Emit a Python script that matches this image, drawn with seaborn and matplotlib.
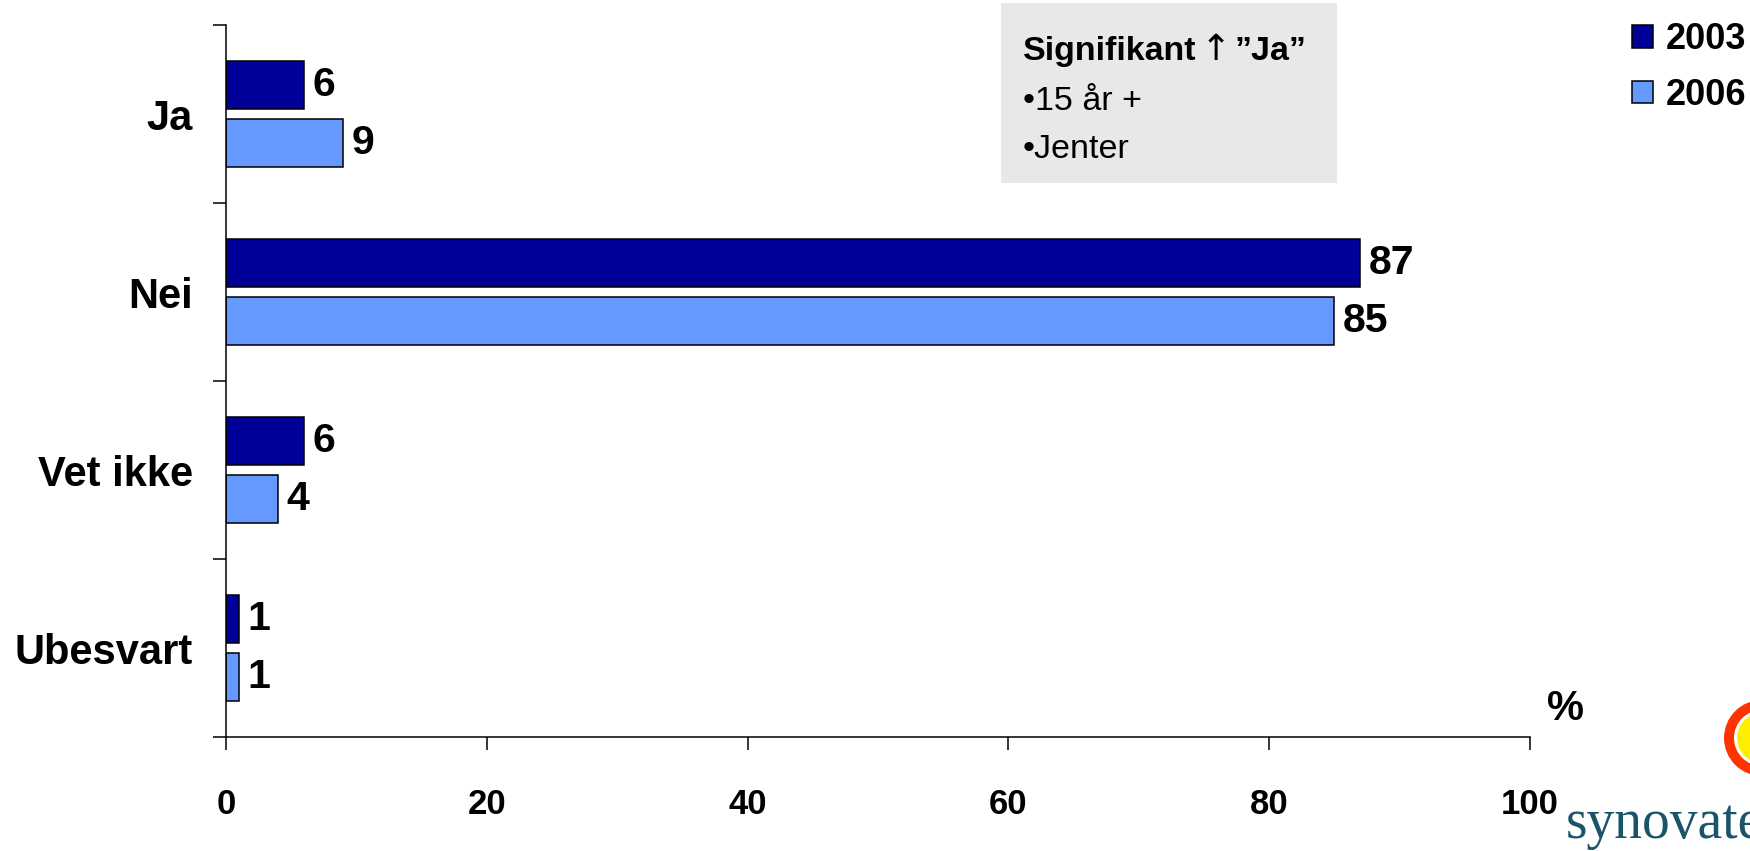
import matplotlib
matplotlib.use("Agg")
import matplotlib.pyplot as plt
import matplotlib.patches as mpatches
import numpy as np
import pandas as pd
import seaborn as sns

categories = ["Ja", "Nei", "Vet ikke", "Ubesvart"]
years = ["2003", "2006"]
values_2003 = [6, 87, 6, 1]
values_2006 = [9, 85, 4, 1]
x_ticks = [0, 20, 40, 60, 80, 100]

sns.set_theme(style="ticks")
plt.rcParams["font.family"] = ["Liberation Sans", "DejaVu Sans"]
plt.rcParams["text.color"] = "black"
plt.rcParams["xtick.color"] = "black"
plt.rcParams["ytick.color"] = "black"
plt.rcParams["axes.labelcolor"] = "black"

df = pd.DataFrame({
    "svar": categories * 2,
    "aar": [years[0]] * 4 + [years[1]] * 4,
    "prosent": values_2003 + values_2006,
})

fig = plt.figure(figsize=(17.5, 8.51), dpi=100)
ax = fig.add_axes([226 / 1750, 1 - 737 / 851, (1530 - 226) / 1750, (737 - 25) / 851])

palette = {"2003": "#000099", "2006": "#6699FF"}
sns.barplot(data=df, x="prosent", y="svar", hue="aar", order=categories,
            hue_order=years, palette=palette, orient="h", width=0.652, gap=0.17,
            edgecolor="black", linewidth=1.1, saturation=1, errorbar=None, ax=ax)

for cont in ax.containers:
    ax.bar_label(cont, fmt="%d", padding=6, fontsize=29.5, fontweight="bold")

ax.set_xlim(0, 100)
ax.set_ylim(3.5, -0.5)
ax.set_xticks(x_ticks)
ax.set_xticklabels([str(t) for t in x_ticks], fontsize=25, fontweight="bold")
ax.set_yticks(range(len(categories)))
ax.set_yticklabels(categories, fontsize=30, fontweight="bold")
ax.set_yticks(np.arange(-0.5, 4, 1), minor=True)
ax.tick_params(axis="y", which="major", length=0, pad=24)
ax.tick_params(axis="y", which="minor", length=9.5, width=1.1, direction="out")
ax.tick_params(axis="x", which="major", length=9, width=1.1, direction="out", pad=28)
ax.set_xlabel("")
ax.set_ylabel("")
for side in ["top", "right"]:
    ax.spines[side].set_visible(False)
for side in ["left", "bottom"]:
    ax.spines[side].set_color("black")
    ax.spines[side].set_linewidth(1.1)

handles, labels = ax.get_legend_handles_labels()
ax.get_legend().remove()
fig.legend(handles, labels, loc="upper left", bbox_to_anchor=(1614 / 1750, 1 - 4 / 851),
           frameon=False, prop={"size": 26, "weight": "bold"}, handlelength=0.58,
           handleheight=0.58, handletextpad=0.35, labelspacing=0.58, borderpad=0)

# note box
fig.patches.append(mpatches.Rectangle((1001 / 1750, 1 - 183 / 851), 336 / 1750, 180 / 851,
                                      transform=fig.transFigure, facecolor="#E8E8E8",
                                      edgecolor="none", zorder=0))
fig.text(1023 / 1750, 1 - 60 / 851, "Signifikant", fontsize=24.5, fontweight="bold",
         va="baseline")
fig.text(1201 / 1750, 1 - 60 / 851, "\u2191", fontsize=26, family=["DejaVu Sans"],
         va="baseline")
fig.text(1234 / 1750, 1 - 60 / 851, "\u201dJa\u201d", fontsize=24.5, fontweight="bold",
         va="baseline")
fig.text(1023 / 1750, 1 - 110 / 851, "\u202215 år +", fontsize=24.5, va="baseline")
fig.text(1023 / 1750, 1 - 158 / 851, "\u2022Jenter", fontsize=24.5, va="baseline")

fig.text(1547 / 1750, 1 - 720 / 851, "%", fontsize=30, fontweight="bold", va="baseline")

# logo
logo_c = (1762, 738)
for r, col in [(38, "#FF3300"), (28, "white"), (25, "#FFEE00")]:
    fig.patches.append(mpatches.Ellipse((logo_c[0] / 1750, 1 - logo_c[1] / 851),
                                        2 * r / 1750, 2 * r / 851,
                                        transform=fig.transFigure, facecolor=col,
                                        edgecolor="none"))
fig.text(1566 / 1750, 1 - 838 / 851, "synovate", fontsize=40, family=["Liberation Serif"],
         color="#1A5468", va="baseline")

fig.savefig("out.png", dpi=100)
